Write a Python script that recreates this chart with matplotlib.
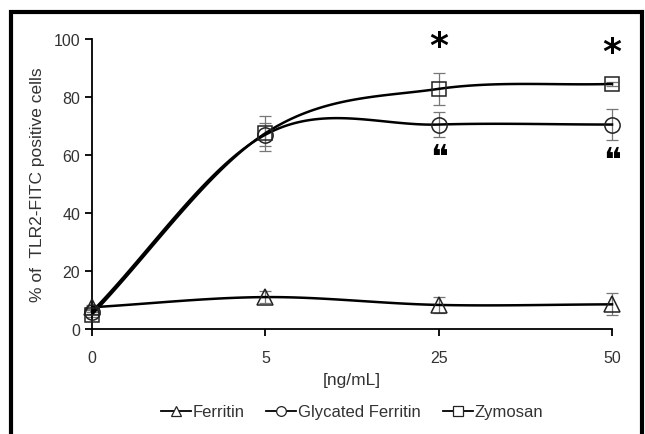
import numpy as np
import matplotlib
matplotlib.use('Agg')
import matplotlib.pyplot as plt
from matplotlib.patches import Rectangle
from matplotlib.lines import Line2D

doses = ["0", "5", "25", "50"]
ferritin = [7.5, 11.0, 8.3, 8.5]
ferritin_err = [0.8, 2.0, 2.8, 3.8]
glycated = [6.0, 67.0, 70.5, 70.5]
glycated_err = [0.8, 4.0, 4.3, 5.4]
zymosan = [5.0, 67.5, 82.8, 84.5]
zymosan_err = [0.8, 6.0, 5.5, 0.8]
star_y = [97.5, 95.5]
quote_y = [59.0, 58.0]
mark_idx = [2, 3]


def smooth(y, n=40):
    # Catmull-Rom style curve through the points (like Excel "smoothed line")
    x = np.arange(len(y), dtype=float)
    y = np.asarray(y, dtype=float)
    px = np.concatenate([[2 * x[0] - x[1]], x, [2 * x[-1] - x[-2]]])
    py = np.concatenate([[2 * y[0] - y[1]], y, [2 * y[-1] - y[-2]]])
    xs, ys = [], []
    t = np.linspace(0, 1, n)
    for i in range(1, len(px) - 2):
        for p, out in ((px, xs), (py, ys)):
            p0, p1, p2, p3 = p[i - 1], p[i], p[i + 1], p[i + 2]
            out.append(0.5 * ((2 * p1) + (-p0 + p2) * t
                              + (2 * p0 - 5 * p1 + 4 * p2 - p3) * t ** 2
                              + (-p0 + 3 * p1 - 3 * p2 + p3) * t ** 3))
    return np.concatenate(xs), np.concatenate(ys)


plt.rcParams['font.family'] = ['Liberation Sans', 'DejaVu Sans']
fig = plt.figure(figsize=(6.45, 4.35), dpi=100)
ax = fig.add_axes([92 / 645, 1 - 330 / 435, 520 / 645, 290 / 435])

x = np.arange(len(doses))
series = [(ferritin, ferritin_err, '^', 'Ferritin'),
          (glycated, glycated_err, 'o', 'Glycated Ferritin'),
          (zymosan, zymosan_err, 's', 'Zymosan')]

handles = []
for vals, err, mk, name in series:
    sx, sy = smooth(vals)
    ax.plot(sx, sy, color='black', lw=1.8, clip_on=False, zorder=3)
    ax.errorbar(x, vals, yerr=err, fmt='none', ecolor='#777777', elinewidth=0.9,
                capsize=4, capthick=0.9, clip_on=False, zorder=2)
    ax.plot(x, vals, linestyle='none', marker=mk, markersize=11 if mk != 's' else 10,
            markerfacecolor='none', markeredgecolor='#222222', markeredgewidth=1.1,
            clip_on=False, zorder=4)
    handles.append(Line2D([], [], color='black', lw=1.3, marker=mk, markersize=7,
                          markerfacecolor='white', markeredgecolor='#222222',
                          markeredgewidth=0.9, label=name))

for i, sy, qy in zip(mark_idx, star_y, quote_y):
    ax.text(x[i], sy, '*', ha='center', va='center', fontsize=26, fontweight='bold',
            family='DejaVu Sans', color='black', clip_on=False)
    ax.text(x[i], qy, '\u275d', ha='center', va='center', fontsize=24,
            family='DejaVu Sans', color='black', clip_on=False)

ax.set_xlim(0, 3)
ax.set_ylim(0, 100)
ax.set_xticks(x)
ax.set_xticklabels(doses)
ax.set_yticks(range(0, 101, 20))
for s in ['top', 'right']:
    ax.spines[s].set_visible(False)
for s in ['left', 'bottom']:
    ax.spines[s].set_linewidth(1.3)
ax.tick_params(axis='both', labelsize=11.5, labelcolor='#333333', width=1.3, length=5)
ax.tick_params(axis='x', pad=10)
ax.set_xlabel('[ng/mL]', fontsize=12.5, color='#333333', labelpad=5)
ax.set_ylabel('% of  TLR2-FITC positive cells', fontsize=12.5, color='#333333', labelpad=6)

fig.legend(handles=handles, loc='center', bbox_to_anchor=(352 / 645, 1 - 413 / 435),
           ncol=3, frameon=False, fontsize=12, handlelength=1.8, handletextpad=0.1,
           columnspacing=1.3, labelcolor='#333333')

fig.patches.append(Rectangle((11 / 645, -0.1), (642 - 11) / 645, 1.1 - 13 / 435,
                             transform=fig.transFigure, fill=False,
                             edgecolor='black', lw=3.0))

fig.savefig('out.png', dpi=100)
